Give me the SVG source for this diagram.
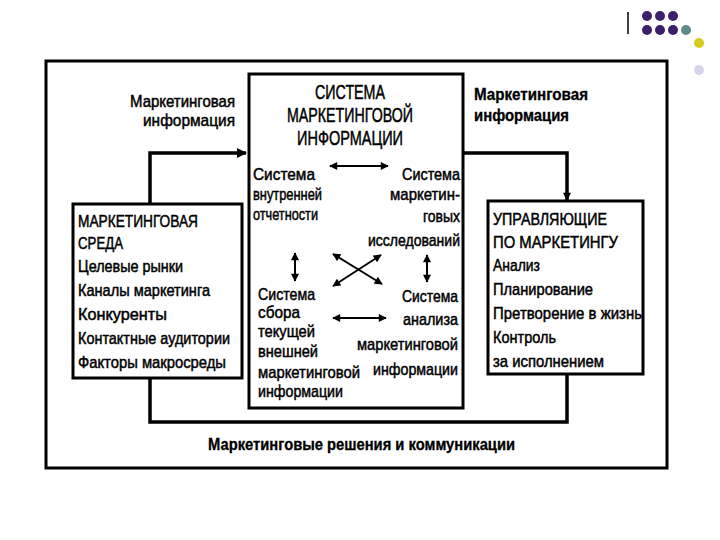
<svg xmlns="http://www.w3.org/2000/svg" width="720" height="540" viewBox="0 0 720 540">
<defs>
<style>
.t{font-family:"Liberation Sans",Arial,sans-serif;font-size:17px;fill:#000;stroke:#000;stroke-width:0.5}
.b{font-weight:bold;font-size:16px;stroke-width:0.3}
.h{font-size:21px}
.box{fill:#fff;stroke:#000;stroke-width:3}
.con{fill:none;stroke:#000;stroke-width:3.5}
.thin{fill:none;stroke:#000;stroke-width:2}
</style>
<marker id="ah" viewBox="0 0 10 10" refX="9" refY="5" markerWidth="12" markerHeight="10" markerUnits="userSpaceOnUse" orient="auto-start-reverse">
<path d="M0,0 L10,5 L0,10 z" fill="#000"/>
</marker>
<marker id="as" viewBox="0 0 10 10" refX="9" refY="5" markerWidth="9" markerHeight="8" markerUnits="userSpaceOnUse" orient="auto-start-reverse">
<path d="M0,0 L10,5 L0,10 z" fill="#000"/>
</marker>
</defs>
<rect width="720" height="540" fill="#fff"/>
<g id="decor">
<line x1="628" y1="12" x2="628" y2="34" stroke="#000" stroke-width="1.5"/>
<circle cx="647" cy="16" r="5" fill="#3b1f6b"/>
<circle cx="660" cy="16" r="5" fill="#3b1f6b"/>
<circle cx="673" cy="16" r="5" fill="#3b1f6b"/>
<circle cx="647" cy="30" r="5" fill="#3b1f6b"/>
<circle cx="660" cy="30" r="5" fill="#3b1f6b"/>
<circle cx="673" cy="30" r="5" fill="#3b1f6b"/>
<circle cx="686" cy="30" r="5" fill="#5f8a8a"/>
<circle cx="699" cy="43" r="5" fill="#d4cc1e"/>
<circle cx="699" cy="70" r="5" fill="#d6d4ea"/>
</g>
<g id="frame">
<rect x="46" y="61" width="621" height="407" fill="none" stroke="#000" stroke-width="3"/>
</g>
<g id="label-info-left">
<text class="t" x="130" y="107" textLength="105" lengthAdjust="spacingAndGlyphs">Маркетинговая</text>
<text class="t" x="143" y="126" textLength="92" lengthAdjust="spacingAndGlyphs">информация</text>
</g>
<g id="label-info-right">
<text class="t b" x="474" y="100" textLength="114" lengthAdjust="spacingAndGlyphs">Маркетинговая</text>
<text class="t b" x="474" y="121" textLength="95" lengthAdjust="spacingAndGlyphs">информация</text>
</g>
<g id="label-decisions">
<text class="t b" x="208" y="450" textLength="307" lengthAdjust="spacingAndGlyphs">Маркетинговые решения и коммуникации</text>
</g>
<g id="center">
<rect class="box" x="249" y="74" width="214" height="334"/>
<text class="t h" x="315" y="99" textLength="70" lengthAdjust="spacingAndGlyphs">СИСТЕМА</text>
<text class="t h" x="287" y="122" textLength="126" lengthAdjust="spacingAndGlyphs">МАРКЕТИНГОВОЙ</text>
<text class="t h" x="297" y="145" textLength="106" lengthAdjust="spacingAndGlyphs">ИНФОРМАЦИИ</text>
<text class="t" x="253" y="180" textLength="62" lengthAdjust="spacingAndGlyphs">Система</text>
<text class="t" x="253" y="200" textLength="69" lengthAdjust="spacingAndGlyphs">внутренней</text>
<text class="t" x="253" y="220" textLength="65" lengthAdjust="spacingAndGlyphs">отчетности</text>
<text class="t" x="402" y="180" textLength="58" lengthAdjust="spacingAndGlyphs">Система</text>
<text class="t" x="390" y="200" textLength="70" lengthAdjust="spacingAndGlyphs">маркетин-</text>
<text class="t" x="423" y="222" textLength="37" lengthAdjust="spacingAndGlyphs">говых</text>
<text class="t" x="368" y="246" textLength="92" lengthAdjust="spacingAndGlyphs">исследований</text>
<text class="t" x="258" y="300" textLength="57" lengthAdjust="spacingAndGlyphs">Система</text>
<text class="t" x="258" y="318" textLength="42" lengthAdjust="spacingAndGlyphs">сбора</text>
<text class="t" x="258" y="337" textLength="57" lengthAdjust="spacingAndGlyphs">текущей</text>
<text class="t" x="258" y="357" textLength="60" lengthAdjust="spacingAndGlyphs">внешней</text>
<text class="t" x="258" y="378" textLength="102" lengthAdjust="spacingAndGlyphs">маркетинговой</text>
<text class="t" x="258" y="397" textLength="85" lengthAdjust="spacingAndGlyphs">информации</text>
<text class="t" x="402" y="302" textLength="56" lengthAdjust="spacingAndGlyphs">Система</text>
<text class="t" x="403" y="325" textLength="55" lengthAdjust="spacingAndGlyphs">анализа</text>
<text class="t" x="357" y="350" textLength="101" lengthAdjust="spacingAndGlyphs">маркетинговой</text>
<text class="t" x="373" y="375" textLength="85" lengthAdjust="spacingAndGlyphs">информации</text>
</g>
<g id="environment">
<rect class="box" x="73" y="204" width="169" height="174"/>
<text class="t" x="78" y="227" textLength="120" lengthAdjust="spacingAndGlyphs">МАРКЕТИНГОВАЯ</text>
<text class="t" x="78" y="249" textLength="45" lengthAdjust="spacingAndGlyphs">СРЕДА</text>
<text class="t" x="78" y="272" textLength="105" lengthAdjust="spacingAndGlyphs">Целевые рынки</text>
<text class="t" x="78" y="296" textLength="132" lengthAdjust="spacingAndGlyphs">Каналы маркетинга</text>
<text class="t" x="78" y="320" textLength="89" lengthAdjust="spacingAndGlyphs">Конкуренты</text>
<text class="t" x="78" y="344" textLength="152" lengthAdjust="spacingAndGlyphs">Контактные аудитории</text>
<text class="t" x="78" y="368" textLength="148" lengthAdjust="spacingAndGlyphs">Факторы макросреды</text>
</g>
<g id="managers">
<rect class="box" x="488" y="201" width="155" height="173"/>
<text class="t" x="493" y="225" textLength="114" lengthAdjust="spacingAndGlyphs">УПРАВЛЯЮЩИЕ</text>
<text class="t" x="493" y="248" textLength="125" lengthAdjust="spacingAndGlyphs">ПО МАРКЕТИНГУ</text>
<text class="t" x="493" y="271" textLength="47" lengthAdjust="spacingAndGlyphs">Анализ</text>
<text class="t" x="493" y="295" textLength="100" lengthAdjust="spacingAndGlyphs">Планирование</text>
<text class="t" x="493" y="319" textLength="149" lengthAdjust="spacingAndGlyphs">Претворение в жизнь</text>
<text class="t" x="493" y="343" textLength="63" lengthAdjust="spacingAndGlyphs">Контроль</text>
<text class="t" x="493" y="367" textLength="111" lengthAdjust="spacingAndGlyphs">за исполнением</text>
</g>
<g id="connectors">
<polyline class="con" points="150,203 150,153 246,153" marker-end="url(#ah)"/>
<polyline class="con" points="463,153 567,153 567,200" marker-end="url(#as)"/>
<polyline class="con" points="567,373 567,422 150,422 150,379"/>
<line class="thin" x1="330" y1="166" x2="388" y2="166" marker-start="url(#as)" marker-end="url(#as)"/>
<line class="thin" x1="333" y1="318" x2="386" y2="318" marker-start="url(#as)" marker-end="url(#as)"/>
<line class="thin" x1="295" y1="253" x2="295" y2="281" marker-start="url(#as)" marker-end="url(#as)"/>
<line class="thin" x1="427" y1="255" x2="427" y2="282" marker-start="url(#as)" marker-end="url(#as)"/>
<line class="thin" x1="333" y1="254" x2="382" y2="284" marker-start="url(#as)" marker-end="url(#as)"/>
<line class="thin" x1="381" y1="255" x2="333" y2="286" marker-start="url(#as)" marker-end="url(#as)"/>
</g>
</svg>
